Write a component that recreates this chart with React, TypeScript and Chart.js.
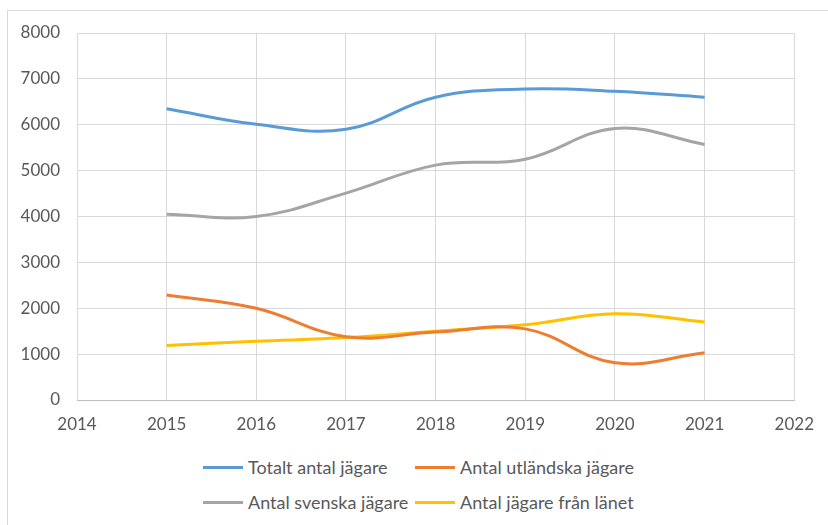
import React, { useEffect, useRef } from "react";
import { Chart, registerables } from "chart.js";

Chart.register(...registerables);

const years = [2015, 2016, 2017, 2018, 2019, 2020, 2021];
const totalHunters = [6350, 6010, 5900, 6600, 6780, 6730, 6600];
const foreignHunters = [2290, 2000, 1380, 1480, 1550, 810, 1030];
const swedishHunters = [4050, 4000, 4510, 5120, 5250, 5920, 5570];
const countyHunters = [1190, 1280, 1360, 1500, 1640, 1880, 1700];

const seriesNames = [
  "Totalt antal jägare",
  "Antal utländska jägare",
  "Antal svenska jägare",
  "Antal jägare från länet",
];
const seriesColors = ["#5b9bd5", "#ed7d31", "#a5a5a5", "#ffc000"];
const seriesValues = [totalHunters, foreignHunters, swedishHunters, countyHunters];

const FONT = "Lato, 'Open Sans', sans-serif";

export default function App() {
  const canvasRef = useRef<HTMLCanvasElement | null>(null);

  useEffect(() => {
    const ctx = canvasRef.current;
    if (!ctx) return;
    const chart = new Chart(ctx, {
      type: "scatter",
      data: {
        datasets: seriesNames.map((name, i) => ({
          label: name,
          data: years.map((y, j) => ({ x: y, y: seriesValues[i][j] })),
          borderColor: seriesColors[i],
          backgroundColor: seriesColors[i],
          borderWidth: 3,
          showLine: true,
          tension: 0.4,
          pointRadius: 0,
          pointHoverRadius: 0,
        })),
      },
      options: {
        animation: false,
        responsive: false,
        maintainAspectRatio: false,
        layout: { padding: { left: 0, top: 33, right: 33, bottom: 0 } },
        plugins: {
          legend: { display: false },
          tooltip: { enabled: false },
        },
        scales: {
          x: {
            type: "linear",
            min: 2014,
            max: 2022,
            ticks: {
              stepSize: 1,
              color: "#595959",
              font: { family: FONT, size: 17 },
              padding: 14,
              callback: (v: any) => String(v),
            },
            grid: { color: "#d9d9d9", drawTicks: false, lineWidth: 1 },
            border: { color: "#bfbfbf" },
            afterFit: (scale: any) => {
              scale.height = 45;
            },
          },
          y: {
            min: 0,
            max: 8000,
            ticks: {
              stepSize: 1000,
              color: "#595959",
              font: { family: FONT, size: 17 },
              padding: 17,
              callback: (v: any) => String(v),
            },
            grid: { color: "#d9d9d9", drawTicks: false, lineWidth: 1 },
            border: { display: false },
            afterFit: (scale: any) => {
              scale.width = 77;
            },
          },
        },
      },
    });
    return () => chart.destroy();
  }, []);

  const legendItem = (i: number) => (
    <div style={{ display: "flex", alignItems: "center" }}>
      <div
        style={{
          width: 40,
          height: 3,
          background: seriesColors[i],
          marginRight: 5,
        }}
      />
      <span style={{ color: "#595959", fontSize: 18, fontFamily: FONT, lineHeight: "22px" }}>
        {seriesNames[i]}
      </span>
    </div>
  );

  return (
    <div
      style={{
        position: "absolute",
        left: 0,
        top: 0,
        width: 828,
        height: 525,
        background: "#ffffff",
        overflow: "hidden",
      }}
    >
      <div
        style={{
          position: "absolute",
          left: 7,
          top: 10,
          width: 840,
          height: 540,
          border: "1px solid #d9d9d9",
        }}
      />
      <canvas
        ref={canvasRef}
        width={828}
        height={445}
        style={{ position: "absolute", left: 0, top: 0 }}
      />
      <div style={{ position: "absolute", left: 203, top: 456 }}>{legendItem(0)}</div>
      <div style={{ position: "absolute", left: 415, top: 456 }}>{legendItem(1)}</div>
      <div style={{ position: "absolute", left: 203, top: 491 }}>{legendItem(2)}</div>
      <div style={{ position: "absolute", left: 415, top: 491 }}>{legendItem(3)}</div>
    </div>
  );
}
